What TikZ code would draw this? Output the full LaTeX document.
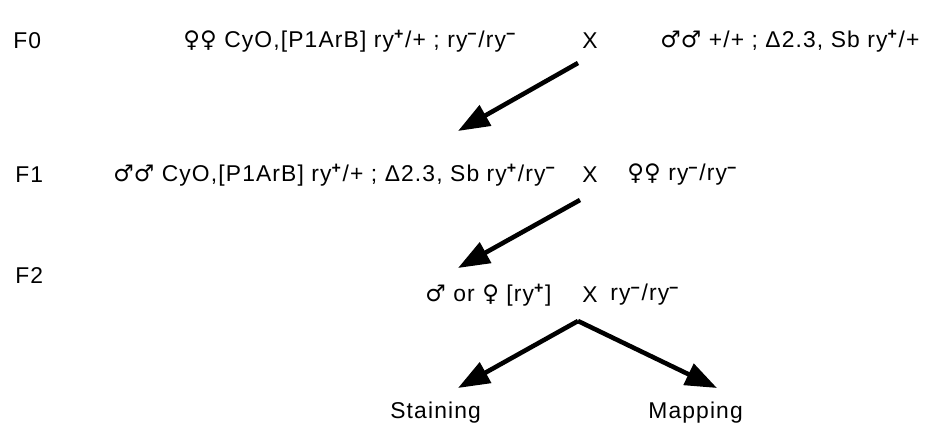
\documentclass[tikz,border=0pt]{standalone}
\usepackage{fontspec}
\setmainfont{Liberation Sans}[LetterSpace=5]
\newfontfamily\symfont{DejaVu Sans}
\usetikzlibrary{arrows.meta,positioning}
\newcommand{\fem}{{\symfont\char"2640}}
\newcommand{\mal}{{\symfont\char"2642}}
\newcommand{\ryp}{ry\textsuperscript{\textbf{+}}}
\newcommand{\rym}{ry\textsuperscript{\textbf{−}}}

\begin{document}
\begin{tikzpicture}[x=0.02cm, y=-0.02cm,
    txt/.style={anchor=west, inner sep=0pt, font=\fontsize{13}{15}\selectfont},
    gen/.style={txt},
    fat/.style={-{Triangle[length=18pt, width=13pt]}, line width=2.6pt, line join=round}]
    \useasboundingbox (0,0) rectangle (947,428);

    % Generations
    \node[gen] (F0) at (13,41) {F0};
    \node[gen] (F1) at (15,175) {F1};
    \node[gen] (F2) at (15,276) {F2};

    % F0 cross
    \node[txt] (p0fem) at (183,41) {\fem\fem\ CyO,[P1ArB] \ryp/+ ; \rym/\rym};
    \node[txt] (x0) at (582,41) {X};
    \node[txt] (p0mal) at (660,41) {\mal\mal\ +/+ ; Δ2.3, Sb \ryp/+};

    % F1 cross
    \node[txt] (p1mal) at (113,175) {\mal\mal\ CyO,[P1ArB] \ryp/+ ; Δ2.3, Sb \ryp/\rym};
    \node[txt] (x1) at (582,175) {X};
    \node[txt] (p1fem) at (627,175) {\fem\fem\ \rym/\rym};

    % F2 cross
    \node[txt] (p2any) at (425,295) {\mal\ or \fem\ [\ryp]};
    \node[txt] (x2) at (582,295) {X};
    \node[txt] (p2tst) at (610,295) {\rym/\rym};

    % Outcomes
    \node[txt] (stain) at (390,413) {Staining};
    \node[txt] (map) at (648,413) {Mapping};

    % Arrows
    \coordinate (a0) at (578,63);
    \coordinate (b0) at (458,131);
    \coordinate (a1) at (580,200);
    \coordinate (b1) at (458,268);
    \coordinate (apex) at (578,321);
    \coordinate (tl) at (458,388);
    \coordinate (tr) at (717,388);
    \draw[fat] (a0) -- (b0);
    \draw[fat] (a1) -- (b1);
    \draw[fat] (apex) -- (tl);
    \draw[fat] (apex) -- (tr);
\end{tikzpicture}
\end{document}
